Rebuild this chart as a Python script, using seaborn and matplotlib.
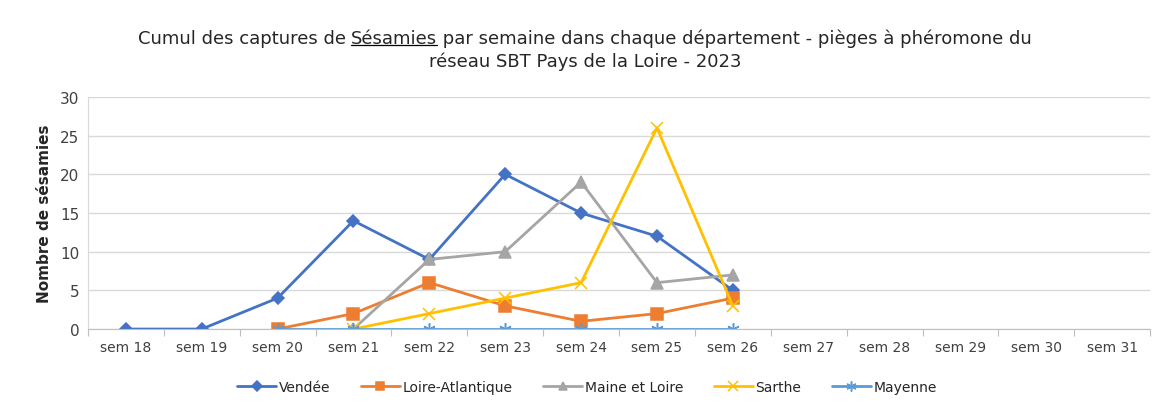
import matplotlib.pyplot as plt
import numpy as np
import pandas as pd
import seaborn as sns
from matplotlib import font_manager
from matplotlib.lines import Line2D

weeks = ['sem 18', 'sem 19', 'sem 20', 'sem 21', 'sem 22', 'sem 23', 'sem 24',
         'sem 25', 'sem 26', 'sem 27', 'sem 28', 'sem 29', 'sem 30', 'sem 31']
nan = np.nan
vendee = [0, 0, 4, 14, 9, 20, 15, 12, 5, nan, nan, nan, nan, nan]
loire_atlantique = [nan, nan, 0, 2, 6, 3, 1, 2, 4, nan, nan, nan, nan, nan]
maine_et_loire = [nan, nan, nan, 0, 9, 10, 19, 6, 7, nan, nan, nan, nan, nan]
sarthe = [nan, nan, nan, 0, 2, 4, 6, 26, 3, nan, nan, nan, nan, nan]
mayenne = [nan, nan, 0, 0, 0, 0, 0, 0, 0, nan, nan, nan, nan, nan]

series = {
    'Vendée': vendee,
    'Loire-Atlantique': loire_atlantique,
    'Maine et Loire': maine_et_loire,
    'Sarthe': sarthe,
    'Mayenne': mayenne,
}
colors = {'Vendée': '#4472C4', 'Loire-Atlantique': '#ED7D31', 'Maine et Loire': '#A5A5A5',
          'Sarthe': '#FFC000', 'Mayenne': '#5B9BD5'}
markers = {'Vendée': 'D', 'Loire-Atlantique': 's', 'Maine et Loire': '^',
           'Sarthe': 'x', 'Mayenne': (6, 2, 0)}
msizes = {'Vendée': 6, 'Loire-Atlantique': 8, 'Maine et Loire': 8, 'Sarthe': 9, 'Mayenne': 9}

rows = []
for name, vals in series.items():
    for i, v in enumerate(vals):
        if not np.isnan(v):
            rows.append({'dept': name, 'x': i, 'n': v})
df = pd.DataFrame(rows)

sns.set_style('white')
names = {f.name for f in font_manager.fontManager.ttflist}
narrow = 'Liberation Sans Narrow' if 'Liberation Sans Narrow' in names else 'DejaVu Sans'
plt.rcParams['font.family'] = ['DejaVu Sans']

fig = plt.figure(figsize=(11.56, 4.10), dpi=100)
ax = fig.add_axes([0.076, 0.195, 0.919, 0.566])

for name in series:
    sub = df[df['dept'] == name]
    sns.lineplot(data=sub, x='x', y='n', ax=ax, color=colors[name], marker=markers[name],
                 markersize=msizes[name], markeredgecolor=colors[name],
                 markeredgewidth=1.1, linewidth=2, label=name)

ax.set_xlim(-0.5, len(weeks) - 0.5)
ax.set_ylim(0, 30)
ax.set_yticks(range(0, 31, 5))
ax.yaxis.grid(True, color='#D9D9D9', linewidth=1)
ax.set_axisbelow(True)
ax.set_xticks(np.arange(-0.5, len(weeks), 1))
ax.set_xticklabels([])
ax.set_xticks(range(len(weeks)), minor=True)
ax.set_xticklabels(weeks, minor=True)
ax.tick_params(axis='x', which='major', length=5, color='#BFBFBF', direction='out', bottom=True)
ax.tick_params(axis='x', which='minor', length=0, labelsize=10, colors='#404040', pad=8)
ax.tick_params(axis='y', length=0, labelsize=11, colors='#404040', pad=6)
for s in ['top', 'right']:
    ax.spines[s].set_visible(False)
ax.spines['left'].set_color('#D9D9D9')
ax.spines['bottom'].set_color('#BFBFBF')
ax.set_xlabel('')
ax.set_ylabel('Nombre de sésamies', fontsize=11, fontweight='bold', labelpad=6)

# title, first line built from three pieces so "Sésamies" can be underlined
parts = ['Cumul des captures de ', 'Sésamies', ' par semaine dans chaque département - pièges à phéromone du']
renderer = fig.canvas.get_renderer()
texts = [fig.text(0, 0.905, p, ha='left', va='center', fontsize=13, family=narrow) for p in parts]
widths = [t.get_window_extent(renderer).width for t in texts]
fw = fig.bbox.width
x = 0.506 - sum(widths) / fw / 2
for t, w in zip(texts, widths):
    t.set_x(x)
    x += w / fw
bb = texts[1].get_window_extent(renderer)
uy = (bb.y0 + 2) / fig.bbox.height
fig.add_artist(Line2D([bb.x0 / fw, bb.x1 / fw], [uy, uy], color='black', linewidth=0.9,
                      transform=fig.transFigure))
fig.text(0.506, 0.85, 'réseau SBT Pays de la Loire - 2023',
         ha='center', va='center', fontsize=13, family=narrow)

leg = ax.legend(loc='center', bbox_to_anchor=(0.47, -0.25), ncol=5, frameon=False,
                fontsize=10, handlelength=2.8, columnspacing=2.2, handletextpad=0.2,
                markerscale=0.8)

fig.savefig('out.png', dpi=100)
